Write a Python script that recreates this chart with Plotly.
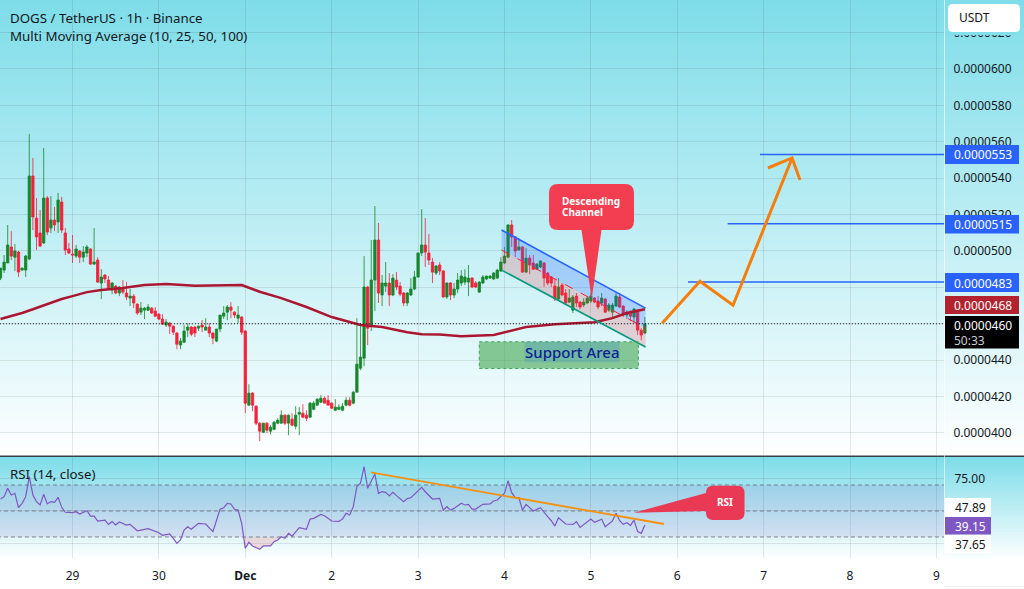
import numpy as np
import pandas as pd
import plotly.graph_objects as go

# prices are in units of 0.0000001 USDT, one bar per hour
PRICE_UNIT = 1e-7
W, H = 1024, 589

bar_open = [
    485.1, 489.5, 493.4, 502.2, 496.6, 499.4, 489.5, 489.5, 495.6, 541.2,
    518.1, 509.9, 504.4, 529.1, 512.6, 517, 515.9, 526.9, 509.9, 501.1,
    498.3, 497.2, 500, 496.6, 498.9, 501.1, 492.8, 495, 482.4, 486.8,
    484, 478.5, 480.7, 476.9, 479.6, 476.9, 474.1, 475.2, 470.8, 466.4,
    467.5, 467.5, 468.6, 467, 465.3, 462.6, 459.3, 460.4, 458.7, 454.9,
    448.3, 449.9, 456.5, 458.2, 458.2, 457.6, 459.3, 456.5, 458.2, 454.9,
    450.5, 457.1, 464.2, 466.4, 469.2, 466.4, 463.1, 463.7, 456, 415.3,
    421.9, 414.7, 405.4, 400.4, 405.4, 401, 402, 405.4, 405.4, 409.8,
    405.4, 407.6, 403.7, 410.3, 410.9, 409.8, 408.7, 413, 415.3, 416.9,
    419.1, 418, 416.4, 412.5, 413, 412.5, 415.3, 418, 416.4, 422.4,
    435.6, 441.1, 480.2, 459.3, 484, 506, 475.8, 480.7, 482.4, 475.8,
    484, 480.7, 476.9, 471.4, 475.8, 479.1, 485.7, 498.9, 503.3, 498.9,
    493.9, 487.9, 492.3, 489, 474.7, 482.4, 475.8, 479.1, 482.4, 482.9,
    482.9, 485.1, 482.4, 477.4, 482.4, 484.6, 485.1, 484.6, 485.1, 489,
    493.4, 496.6, 514.3, 507.7, 500.5, 502.2, 488.4, 496.1, 493.4, 490,
    491.2, 493.4, 487.9, 485.7, 480.7, 473.6, 481.3, 476.9, 471.9, 467.5,
    475.2, 471.9, 470.3, 471.4, 472.5, 474.1, 472.5, 471.4, 473.6, 467.5,
    466.4, 469.7, 474.7, 469.7, 464.8, 466.4, 463.7, 467.5, 456.5, 454.9,
]
bar_high = [
    490.6, 497.8, 514.3, 510.9, 503.8, 500, 490.8, 497.8, 564.3, 551.1,
    529.1, 522.5, 556.6, 530.2, 530.2, 524.2, 531.9, 529.7, 512.6, 504.4,
    508.8, 503.3, 500.5, 502.7, 503.3, 501.5, 512.6, 496.6, 490, 487.3,
    486.2, 482.9, 481.2, 480.7, 484, 482.9, 479.1, 476.3, 471.2, 471.9,
    469.2, 470.8, 469.2, 469.2, 465.9, 465.3, 462.6, 460.9, 459.1, 455.4,
    452.1, 459.3, 460.4, 458.7, 458.7, 459, 462, 463.1, 460.4, 455.4,
    457.1, 464.8, 469.7, 470.3, 471.9, 466.9, 469.7, 464.2, 456.5, 426.8,
    422.4, 415.3, 405.9, 405.6, 405.9, 404.3, 406.5, 408.1, 412.5, 410.2,
    410.1, 410.9, 414.7, 414.2, 415.8, 412.5, 417, 417.5, 419, 420.8,
    420, 420.8, 416.9, 418.6, 415.8, 416.4, 419.7, 419.7, 423, 463.1,
    460.4, 497.2, 480.7, 506, 524.7, 515.4, 486.8, 493.9, 487.9, 487.3,
    488.4, 482.9, 477.4, 477.4, 485.1, 489, 499, 523, 518.1, 509.3,
    496.1, 492.3, 493.9, 489.5, 482.6, 482.9, 482.4, 487.9, 489.5, 490,
    492.3, 485.6, 483.5, 483.4, 486.8, 486.4, 486.8, 488.4, 490, 496.6,
    502.2, 514.6, 517, 508.2, 507.1, 502.7, 501.6, 497.8, 497.8, 493.4,
    494.7, 493.9, 488.4, 486.2, 484.6, 485.1, 482.4, 479.1, 479.1, 475.8,
    476.9, 472.4, 474.1, 475.2, 476.9, 474.7, 475.2, 476.9, 474.1, 471.4,
    471.4, 476.9, 476.9, 470.2, 467.5, 467.5, 468.6, 468, 457.6, 463.7,
]
bar_low = [
    484, 487.9, 493.4, 495, 489, 485.7, 489.2, 485.7, 495, 511.5,
    500.5, 502.2, 503.9, 508.8, 509.9, 510.9, 509.9, 509.9, 497.8, 498.3,
    493.4, 496.1, 493.4, 493.9, 496.6, 492.3, 492.3, 482.4, 473.6, 482.4,
    479.1, 476.3, 476.3, 475.2, 476.3, 473, 469.7, 468.6, 464.8, 464.8,
    462.6, 467, 465.4, 463.7, 462, 459.3, 458.2, 454.3, 453.8, 446,
    446, 449.4, 452.7, 453.2, 452.7, 456, 455.4, 456.5, 452.7, 448.8,
    449.9, 455.4, 462.6, 462, 463.1, 463.1, 460.4, 453.8, 410.9, 415,
    412, 404.3, 395.5, 399.9, 399.9, 399.3, 401.5, 404.8, 405.2, 404.3,
    398.8, 403.7, 402, 398.8, 408.1, 406.5, 408.1, 412.5, 415, 416.4,
    416.4, 415.3, 413.2, 412, 412.5, 412, 414.7, 414.7, 415.8, 422.4,
    434.5, 436.7, 448.3, 456, 467, 471.4, 469.7, 477.4, 469.7, 475.2,
    478.5, 475.2, 469.7, 469.7, 475.2, 478.5, 485.4, 497.2, 491.2, 492.3,
    482.4, 486.8, 486.8, 474.4, 473.6, 473, 474.1, 476.9, 480.7, 481.3,
    475.2, 479.6, 479.6, 476.9, 481.8, 484, 484.6, 484.1, 484.6, 488.4,
    492.8, 496.1, 502.2, 496.6, 500.3, 487.9, 487.9, 487.3, 489.5, 489.5,
    490.6, 480.2, 481.3, 480.2, 472.5, 472.5, 475.2, 470.8, 471.4, 465.9,
    469.2, 468, 469.2, 470.8, 471.4, 471.4, 468, 469.7, 465.9, 466.4,
    463.1, 469.2, 468.6, 463.7, 462.6, 461.5, 460.4, 453.8, 451, 454.3,
]
bar_close = [
    490.6, 493.9, 503.3, 497.2, 500, 488.4, 490.6, 497.2, 541.2, 518.7,
    507.7, 502.7, 529.1, 510.4, 517, 514.3, 528, 511.5, 500.5, 498.9,
    497.8, 501.1, 496.6, 499.4, 502.2, 492.8, 493.9, 482.9, 485.7, 484.6,
    479.1, 482.4, 476.9, 480.2, 477.4, 474.7, 475.2, 471.4, 465.9, 468.6,
    468.6, 469.2, 465.9, 464.2, 462.6, 459.8, 460.9, 458.7, 455.4, 448.8,
    450.5, 456, 458.2, 454.3, 454.9, 458.7, 458.2, 458.2, 454.9, 452.1,
    457.1, 464.8, 465.9, 469.2, 467.5, 464.8, 464.8, 455.4, 416.4, 421.9,
    415.3, 405.4, 401, 405.4, 401.5, 403.2, 405.9, 407, 409.8, 405.4,
    409.8, 404.3, 409.8, 411.4, 408.7, 408.1, 416.4, 416.4, 418.6, 419.1,
    416.4, 415.3, 413.6, 414.2, 414.2, 414.7, 418, 415.3, 422.4, 437.8,
    441.7, 480.2, 457.6, 484, 506, 476.9, 482.4, 482.4, 475.8, 485.1,
    480.2, 476.3, 471.4, 476.9, 479.1, 485.7, 498.9, 503.3, 499.4, 495,
    488.4, 491.7, 489, 474.7, 482.4, 475.8, 479.1, 484, 486.2, 485.7,
    485.1, 480.2, 480.2, 482.9, 485.7, 486.2, 486.2, 487.9, 489.5, 493.9,
    497.2, 514.3, 507.7, 500, 502.2, 488.4, 496.1, 492.3, 490, 492.8,
    494.5, 485.1, 482.4, 482.4, 473.6, 480.2, 475.8, 471.4, 474.1, 474.7,
    471.4, 469.2, 471.9, 474.1, 475.2, 471.9, 469.2, 474.1, 466.4, 470.3,
    470.3, 475.2, 469.2, 465.3, 466.4, 464.2, 468.1, 456.5, 453.8, 460,
]

# moving average, read at the bars where its slope changes
ma_bar = [0, 6, 9, 17, 20, 24, 28, 34, 40, 46, 54, 59, 67, 72, 78, 85, 92, 100, 106,
          113, 117, 122, 128, 137, 141, 146, 154, 165, 170, 174, 179]
ma_value = [462.6, 465.9, 468, 473.6, 475.2, 477.4, 478.5, 479.6, 481.3, 481.8, 480.9,
            480.9, 481.3, 477.6, 474.1, 469.2, 463.7, 459.3, 458.2, 455.4, 454.3, 454.1,
            453.2, 453.8, 455.6, 458.2, 459.8, 460.9, 463.1, 465.9, 468]

rsi_bar = [0, 1, 2, 3, 4, 5, 6, 7, 8, 9, 10, 11, 12, 13, 14, 15, 16, 17, 18, 20, 21, 22,
           24, 25, 26, 27, 29, 30, 31, 32, 33, 35, 36, 38, 41, 43, 44, 45, 47, 48, 49,
           50, 51, 52, 53, 55, 57, 59, 61, 62, 63, 64, 65, 66, 67, 68, 69, 70, 72, 73,
           75, 76, 77, 78, 79, 80, 81, 83, 85, 86, 87, 89, 90, 92, 94, 95, 96, 97, 98,
           99, 100, 101, 102, 104, 105, 106, 107, 108, 109, 110, 112, 113, 114, 117,
           118, 120, 122, 123, 124, 125, 126, 128, 129, 130, 131, 132, 134, 136, 137,
           138, 140, 141, 142, 143, 144, 145, 146, 148, 150, 152, 153, 154, 155, 157,
           159, 160, 161, 164, 165, 167, 168, 170, 171, 172, 173, 174, 175, 176, 177,
           178, 179]
rsi_value = [59.2, 61, 67.4, 62.3, 63.6, 52.5, 55.9, 61, 76.4, 62.3, 57.2, 54.6, 62.8,
             55.4, 57.2, 56.6, 60.5, 52.8, 49, 48.7, 49.5, 47.7, 50.2, 46.1, 46.1, 42.3,
             43, 39.7, 41.8, 39.2, 41.5, 39.2, 39.7, 34.8, 36.4, 34.1, 33.3, 31.3, 32.3,
             29, 25.1, 27.7, 35.4, 37.9, 35.9, 40.5, 40, 34.1, 51.3, 52.5, 55.9, 55.4,
             51.3, 50.7, 40.5, 21.3, 25.9, 23.1, 20.5, 23.1, 23.1, 26.4, 27.7, 30.2, 29,
             32.8, 30.7, 37.2, 35.9, 43.8, 44.3, 47.4, 46.4, 42.3, 42, 43.8, 48.2, 46.9,
             53.3, 68.7, 71.3, 84.1, 67.4, 78.4, 63.6, 64.8, 64.3, 61.5, 64.3, 61.8, 57.2,
             59.5, 60.2, 68.2, 64.8, 59.2, 59.7, 50.7, 53.3, 50.7, 52, 55.9, 54.6, 55.1,
             51.5, 51.5, 55.1, 55.4, 57.7, 58.4, 63.6, 73.3, 64.1, 60.2, 60.2, 50.7, 55.1,
             50, 52.5, 45.6, 42.5, 38.4, 44.8, 40, 39.7, 41.8, 37.4, 43.8, 41.3, 43.6,
             37.9, 42.3, 48.2, 42.5, 39.7, 41, 38.9, 43, 34.1, 32.8, 39.15]

# drawings on the chart
channel_bar = [139.2, 179.2]
channel_upper = [511.5, 468.6]
channel_mid = [500.5, 457.6]
channel_lower = [489.5, 447.2]
support_bar = [133, 177.2]
support_price = [435.4, 450.1]
forecast_bar = [183.8, 194.3, 203.5, 219.9]
forecast_price = [460.3, 483.4, 470.2, 551.1]
arrow_bar = [213.2, 219.9, 222.1]
arrow_price = [545.6, 551.1, 539]
target_price = [483, 515, 553]
target_start_bar = [191, 202, 211]
rsi_trend_bar = [102.9, 184.3]
rsi_trend_value = [79.7, 40]

price_ticks = [400, 420, 440, 460, 480, 500, 520, 540, 560, 580, 600, 620]
rsi_ticks = [25, 50, 75]
rsi_tick_labels = ['', '', '75.00']
rsi_bands = [30, 50, 70]
day_ticks = ['2024-11-29', '2024-11-30', '2024-12-01', '2024-12-02', '2024-12-03', '2024-12-04',
             '2024-12-05', '2024-12-06', '2024-12-07', '2024-12-08', '2024-12-09']
day_labels = ['29', '30', '<b>Dec</b>', '2', '3', '4', '5', '6', '7', '8', '9']

first_bar = pd.Timestamp('2024-11-28 04:00')
FONT = 'Noto Sans'
GREEN = '#17862c'
RED = '#f5203a'
GRID = 'rgba(42,46,57,0.11)'
ORANGE = '#f57f0a'
BLUE = '#2962ff'


def bar_time(i):
    return first_bar + pd.to_timedelta(np.asarray(i, dtype=float), unit='h')


def px(x, y):
    # pixel position in the picture -> paper coordinates
    return x / W, 1 - y / H


def prices(values):
    return np.asarray(values, dtype=float) * PRICE_UNIT


def rounded_path(x0, y0, x1, y1, r, tail=None):
    # tail holds svg fragments in paper coordinates, inserted on the bottom or left edge
    tail = tail or {}

    def p(x, y):
        a, b = px(x, y)
        return f'{a:.5f},{b:.5f}'
    return (f'M{p(x0 + r, y0)} L{p(x1 - r, y0)} Q{p(x1, y0)} {p(x1, y0 + r)} L{p(x1, y1 - r)} '
            f'Q{p(x1, y1)} {p(x1 - r, y1)} ' + tail.get('bottom', '') + f'L{p(x0 + r, y1)} '
            f'Q{p(x0, y1)} {p(x0, y1 - r)} ' + tail.get('left', '') + f'L{p(x0, y0 + r)} '
            f'Q{p(x0, y0)} {p(x0 + r, y0)} Z')


def tail_points(points):
    out = ''
    for x, y in points:
        a, b = px(x, y)
        out += f'L{a:.5f},{b:.5f} '
    return out


fig = go.Figure()

# channel fill goes in first so the lines sit on top of it
up_x = list(bar_time(channel_bar)) + list(bar_time(channel_bar[::-1]))
fig.add_trace(go.Scatter(x=up_x, y=prices(channel_upper + channel_mid[::-1]), mode='none',
                         fill='toself', fillcolor='rgba(41,98,255,0.25)', hoverinfo='skip'))
fig.add_trace(go.Scatter(x=up_x, y=prices(channel_mid + channel_lower[::-1]), mode='none',
                         fill='toself', fillcolor='rgba(242,54,69,0.2)', hoverinfo='skip'))

fig.add_trace(go.Candlestick(
    x=bar_time(np.arange(len(bar_open))),
    open=prices(bar_open), high=prices(bar_high), low=prices(bar_low), close=prices(bar_close),
    increasing=dict(line=dict(color=GREEN, width=0.8), fillcolor=GREEN),
    decreasing=dict(line=dict(color=RED, width=0.8), fillcolor=RED),
    whiskerwidth=0, hoverinfo='skip',
))

fig.add_trace(go.Scatter(x=bar_time(ma_bar), y=prices(ma_value), mode='lines',
                         line=dict(color='#ab1730', width=2.5)))

# last price dotted line
fig.add_trace(go.Scatter(x=bar_time([-1, 263]), y=prices([460, 460]), mode='lines',
                         line=dict(color='#111111', width=1, dash='1px,2px')))

# channel lines
fig.add_trace(go.Scatter(x=bar_time(channel_bar), y=prices(channel_mid), mode='lines',
                         line=dict(color=RED, width=1, dash='dash')))
fig.add_trace(go.Scatter(x=bar_time(channel_bar), y=prices(channel_upper), mode='lines',
                         line=dict(color=BLUE, width=1.6)))
fig.add_trace(go.Scatter(x=bar_time(channel_bar), y=prices(channel_lower), mode='lines',
                         line=dict(color='#0a9a80', width=1.6)))

# support box
sx = bar_time(support_bar)
fig.add_trace(go.Scatter(x=[sx[0], sx[1], sx[1], sx[0], sx[0]],
                         y=prices([support_price[0], support_price[0], support_price[1],
                                   support_price[1], support_price[0]]),
                         mode='lines', fill='toself', fillcolor='rgba(72,170,85,0.62)',
                         line=dict(color='#3fa355', width=1, dash='dot')))

# target levels
for level, start in zip(target_price, target_start_bar):
    fig.add_trace(go.Scatter(x=bar_time([start, 263]), y=prices([level, level]), mode='lines',
                             line=dict(color=BLUE, width=1.5)))

# forecast path
fig.add_trace(go.Scatter(x=bar_time(forecast_bar), y=prices(forecast_price), mode='lines',
                         line=dict(color=ORANGE, width=3)))
fig.add_trace(go.Scatter(x=bar_time(arrow_bar), y=prices(arrow_price), mode='lines',
                         line=dict(color=ORANGE, width=3)))

# rsi pane: band first, then oversold fill, guides and the line
fig.add_trace(go.Scatter(x=bar_time([-1, 263, 263, -1, -1]), y=[30, 30, 70, 70, 30], mode='none',
                         xaxis='x2', yaxis='y2', fill='toself', fillcolor='rgba(126,87,194,0.14)',
                         hoverinfo='skip'))
low_bars = [b for b, v in zip(rsi_bar, rsi_value) if 68 <= b <= 79]
low_vals = [min(v, 30) for b, v in zip(rsi_bar, rsi_value) if 68 <= b <= 79]
fig.add_trace(go.Scatter(x=bar_time(low_bars + low_bars[::-1]), y=low_vals + [30] * len(low_bars), mode='none',
                         xaxis='x2', yaxis='y2', fill='toself', fillcolor='rgba(242,54,69,0.16)',
                         hoverinfo='skip'))
for band in rsi_bands:
    fig.add_trace(go.Scatter(x=bar_time([-1, 263]), y=[band, band], mode='lines', xaxis='x2', yaxis='y2',
                             line=dict(color='#70757f', width=0.9, dash='4px,3px')))
fig.add_trace(go.Scatter(x=bar_time(rsi_bar), y=rsi_value, mode='lines', xaxis='x2', yaxis='y2',
                         line=dict(color='#7e57c2', width=1.2)))
fig.add_trace(go.Scatter(x=bar_time(rsi_trend_bar), y=rsi_trend_value, mode='lines',
                         xaxis='x2', yaxis='y2', line=dict(color='#f7900f', width=1.8)))

shapes = []


def gradient(y_top, y_bottom, top_rgb):
    # background fades from cyan to white, drawn as thin strips
    step = 3
    for y in range(y_top, y_bottom, step):
        t = (y - y_top) / (y_bottom - y_top)
        c = [round(a + (255 - a) * t) for a in top_rgb]
        x0, y0 = px(0, y)
        x1, y1 = px(W, min(y + step, y_bottom))
        shapes.append(dict(type='rect', xref='paper', yref='paper', x0=x0, x1=x1, y0=y0, y1=y1,
                           fillcolor=f'rgb({c[0]},{c[1]},{c[2]})', line_width=0, layer='below'))


gradient(0, 456, (126, 221, 233))
gradient(457, 559, (126, 221, 233))


def line_px(x0, y0, x1, y1, color, width):
    a, b = px(x0, y0)
    c, d = px(x1, y1)
    shapes.append(dict(type='line', xref='paper', yref='paper', x0=a, y0=b, x1=c, y1=d,
                       line=dict(color=color, width=width), layer='above'))


def box_px(x0, y0, x1, y1, color):
    a, b = px(x0, y0)
    c, d = px(x1, y1)
    shapes.append(dict(type='rect', xref='paper', yref='paper', x0=a, y0=b, x1=c, y1=d,
                       fillcolor=color, line_width=0, layer='above'))


line_px(0, 456.2, W, 456.2, '#3a4048', 1.4)
line_px(944.5, 0, 944.5, 559, 'rgba(255,255,255,0.6)', 1)
line_px(945, 586.5, W, 586.5, 'rgba(42,46,57,0.08)', 1)

# USDT button, the strip under it hides most of the top tick label
box_px(946, 31, 1024, 35.2, 'rgb(133,223,235)')
shapes.append(dict(type='path', xref='paper', yref='paper', path=rounded_path(948, 4, 1020, 32, 5),
                   fillcolor='white', line_width=0, layer='above'))

# callouts
shapes.append(dict(type='path', xref='paper', yref='paper', fillcolor='#f4384a', line_width=0, layer='above',
                   opacity=0.97,
                   path=rounded_path(549, 184, 634, 230, 9, dict(bottom=tail_points([(601.5, 230), (591.7, 299), (581.5, 230)])))))
shapes.append(dict(type='path', xref='paper', yref='paper', fillcolor='#e93954', line_width=0, layer='above',
                   path=rounded_path(706, 485.7, 744.5, 520, 7, dict(left=tail_points([(706, 511), (634, 512.7), (706, 493)])))))

# price and rsi badges, text added below
badges = [
    (945, 145, 1019, 164, BLUE),
    (945, 215, 1019, 233.5, BLUE),
    (945, 273, 1019, 292, BLUE),
    (945, 296, 1019, 314, '#b3222f'),
    (945, 316, 1019, 348.5, '#000000'),
    (945, 498, 991, 517, '#ffffff'),
    (945, 517, 991, 534.5, '#7e57c2'),
    (945, 535, 991, 553, '#ffffff'),
]
for b in badges:
    box_px(*b)

annotations = []


def label(x, y, text, size=12, color='#131722', anchor='left', bgcolor=None, weight=None):
    a, b = px(x, y)
    annotations.append(dict(xref='paper', yref='paper', x=a, y=b, text=text, showarrow=False, xanchor=anchor,
                            yanchor='middle', align=anchor,
                            font=dict(family=FONT, size=size, color=color, weight=weight),
                            bgcolor=bgcolor, borderpad=0))


label(9, 18, 'DOGS / TetherUS · 1h · Binance', 13.3)
label(9, 36, 'Multi Moving Average (10, 25, 50, 100)', 13.3)
label(9, 474, 'RSI (14, close)', 13.3)
label(958, 18, 'USDT', 12)
label(953, 155, '0.0000553', 12, 'white')
label(953, 224.5, '0.0000515', 12, 'white')
label(953, 283, '0.0000483', 12, 'white')
label(953, 305.5, '0.0000468', 12, 'white')
label(953, 325, '0.0000460', 12, 'white')
label(953, 340, '50:33', 12, '#c9ccd3')
label(954, 507.5, '47.89', 12)
label(954, 526, '39.15', 12, 'white')
label(954, 544.5, '37.65', 12)
label(561, 201.5, '<b>Descending</b>', 10, 'white')
label(561, 212, '<b>Channel</b>', 10, 'white')
label(725, 502, '<b>RSI</b>', 10, 'white', anchor='center')
label(572, 352, 'Support Area', 15, '#0d1f8f', anchor='center', bgcolor='rgba(33,110,243,0.18)', weight=500)

x_range = [bar_time(-0.14), bar_time(262.1)]
time_axis = dict(type='date', range=x_range, tickmode='array', tickvals=day_ticks, ticktext=day_labels,
                 showgrid=True, gridcolor=GRID, gridwidth=1, zeroline=False, showline=False,
                 ticks='', fixedrange=True)

# the label of the tick at 460 always sits behind the last price badge
price_tick_labels = ['' if v == 460 else f'{v * PRICE_UNIT:.7f}' for v in price_ticks]

fig.update_layout(
    width=W, height=H, margin=dict(l=0, r=0, t=0, b=0),
    paper_bgcolor='white', plot_bgcolor='rgba(0,0,0,0)', showlegend=False,
    boxgap=0.35, boxgroupgap=0,
    font=dict(family=FONT, size=12, color='#131722'),
    xaxis=dict(time_axis, domain=[0, 944 / W], anchor='y', showticklabels=False, rangeslider=dict(visible=False)),
    xaxis2=dict(time_axis, domain=[0, 944 / W], anchor='y2', matches='x', showticklabels=True,
                ticks='outside', ticklen=7, tickcolor='rgba(0,0,0,0)',
                tickfont=dict(family=FONT, size=12, color='#131722')),
    yaxis=dict(domain=[1 - 455 / H, 1], side='right', anchor='x',
               range=[387.9 * PRICE_UNIT, 637.9 * PRICE_UNIT],
               tickmode='array', tickvals=prices(price_ticks), ticktext=price_tick_labels,
               ticks='outside', ticklen=6, tickcolor='rgba(0,0,0,0)',
               showgrid=True, gridcolor=GRID, zeroline=False, showline=False,
               tickfont=dict(family=FONT, size=12, color='#131722')),
    yaxis2=dict(domain=[1 - 558 / H, 1 - 457 / H], side='right', anchor='x2', range=[13.85, 91.5],
                tickmode='array', tickvals=rsi_ticks, ticktext=rsi_tick_labels,
                ticks='outside', ticklen=7, tickcolor='rgba(0,0,0,0)',
                showgrid=True, gridcolor=GRID, zeroline=False, showline=False,
                tickfont=dict(family=FONT, size=12, color='#131722')),
    shapes=shapes, annotations=annotations,
)

fig.write_html("out.html", config=dict(displayModeBar=False),
               post_script="document.body.style.margin='0';document.body.style.overflow='hidden';")
